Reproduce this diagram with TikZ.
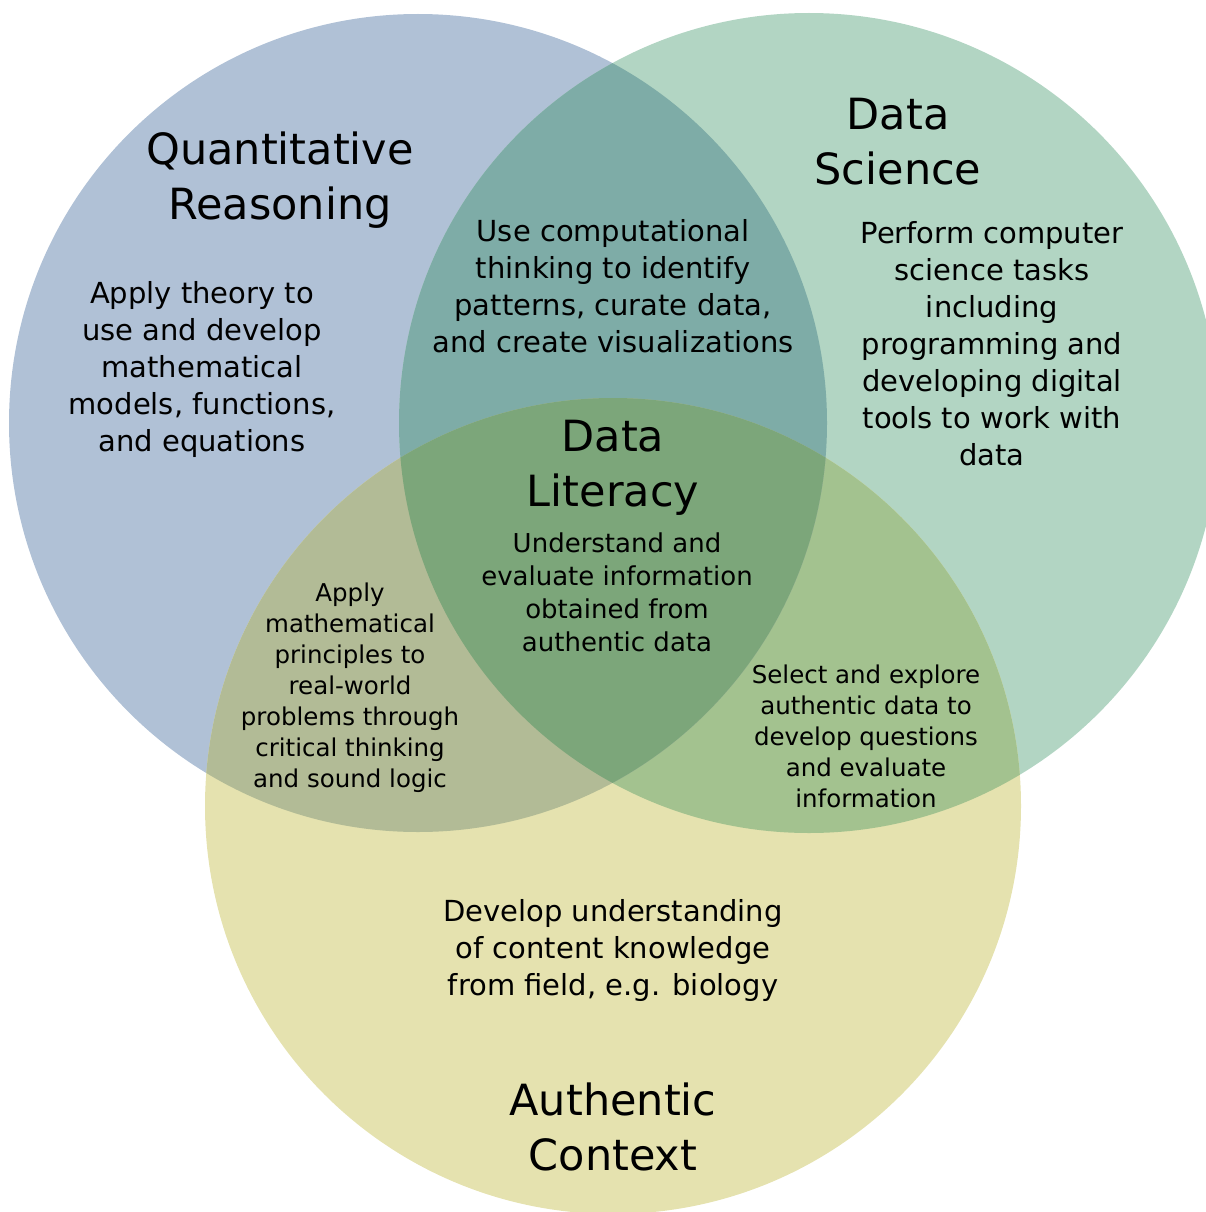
\documentclass[tikz,border=0pt]{standalone}
\usepackage{fontspec}
\setmainfont{DejaVu Sans}
\usepackage{tikz}

\definecolor{qrblue}{HTML}{B0C1D6}
\definecolor{dsgreen}{HTML}{B2D5C3}
\definecolor{acyellow}{HTML}{E5E2AF}
\definecolor{qrds}{HTML}{7EACA7}
\definecolor{qrac}{HTML}{B2BB96}
\definecolor{dsac}{HTML}{A3C28F}
\definecolor{allthree}{HTML}{7CA67A}

\tikzset{
  title/.style={align=center, font=\fontsize{43}{55}\selectfont},
  body/.style={align=center, font=\fontsize{29}{37}\selectfont},
  middle/.style={align=center, font=\fontsize{26}{33}\selectfont},
  small/.style={align=center, font=\fontsize{24.5}{31}\selectfont},
}

\begin{document}
\begin{tikzpicture}[x=1pt,y=-1pt]
	\useasboundingbox (0,0) rectangle (1206,1212);
	\clip (0,0) rectangle (1206,1212);
	\coordinate (qr) at (418,423);
	\coordinate (ds) at (809,423);
	\coordinate (ac) at (613,806);
	% the three sets
	\fill[qrblue] (qr) circle (409pt);
	\fill[dsgreen] (ds) circle (410pt);
	\fill[acyellow] (ac) circle (408pt);
	% overlaps
	\begin{scope}
		\clip (ds) circle (410pt);
		\fill[dsac] (ac) circle (408pt);
	\end{scope}
	\begin{scope}
		\clip (qr) circle (409pt);
		\fill[qrds] (ds) circle (410pt);
		\fill[qrac] (ac) circle (408pt);
		\clip (ds) circle (410pt);
		\fill[allthree] (ac) circle (408pt);
	\end{scope}
	% titles
	\node[title] (qrtitle) at (280,180) {Quantitative\\Reasoning};
	\node[title] (dstitle) at (898,142) {Data\\Science};
	\node[title] (dltitle) at (613,468) {Data\\Literacy};
	\node[title] (actitle) at (613,1127) {Authentic\\Context};
	% texts
	\node[body] (qrtext) at (202,369) {Apply theory to\\use and develop\\mathematical\\models, functions,\\and equations};
	\node[body] (qrdstext) at (613,286) {Use computational\\thinking to identify\\patterns, curate data,\\and create visualizations};
	\node[body] (dstext) at (992,344) {Perform computer\\science tasks\\including\\programming and\\developing digital\\tools to work with\\data};
	\node[middle] (dltext) at (617,592) {Understand and\\evaluate information\\obtained from\\authentic data};
	\node[small] (qractext) at (350,688) {Apply\\mathematical\\principles to\\real-world\\problems through\\critical thinking\\and sound logic};
	\node[small] (dsactext) at (866,736) {Select and explore\\authentic data to\\develop questions\\and evaluate\\information};
	\node[body] (actext) at (613,950) {Develop understanding\\of content knowledge\\from field, e.g. biology};
\end{tikzpicture}
\end{document}
